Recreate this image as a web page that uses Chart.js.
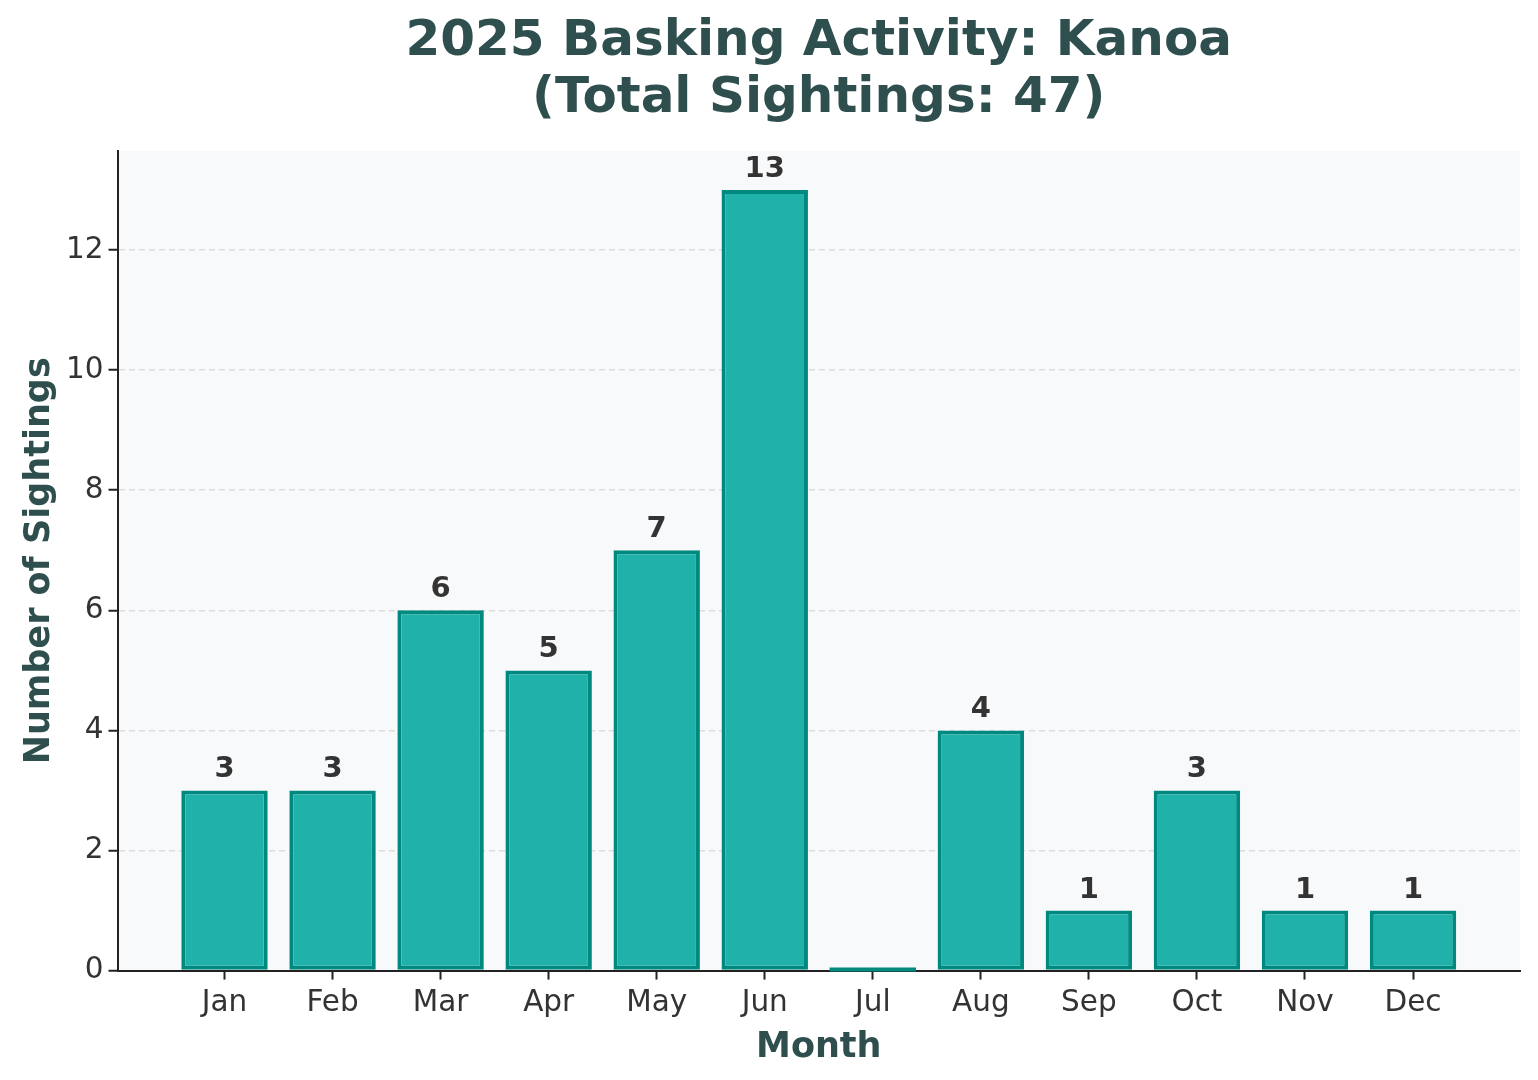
<!DOCTYPE html>
<html>
<head>
<meta charset="utf-8">
<script src="https://cdn.jsdelivr.net/npm/chart.js@4/dist/chart.umd.min.js"></script>
<style>
  html, body { margin: 0; padding: 0; background: #fff; }
  #wrap { width: 1538px; height: 1080px; }
</style>
</head>
<body>
<div id="wrap"><canvas id="baskingChart"></canvas></div>
<script>
const months = ['Jan', 'Feb', 'Mar', 'Apr', 'May', 'Jun', 'Jul', 'Aug', 'Sep', 'Oct', 'Nov', 'Dec'];
const sightings = [3, 3, 6, 5, 7, 13, 0, 4, 1, 3, 1, 1];
const yTicks = [0, 2, 4, 6, 8, 10, 12];
const totalSightings = sightings.reduce((a, b) => a + b, 0);

const plotBackground = {
    id: 'plotBackground',
    beforeDraw(chart) {
        const { ctx, chartArea: a } = chart;
        ctx.save();
        ctx.fillStyle = '#f8f9fa';
        ctx.fillRect(a.left, a.top, a.right - a.left, a.bottom - a.top);
        ctx.restore();
    }
};

// value text above each bar; empty months only get their edge line at the base
const valueLabels = {
    id: 'valueLabels',
    afterDatasetsDraw(chart) {
        const { ctx } = chart;
        const meta = chart.getDatasetMeta(0);
        ctx.save();
        ctx.font = 'bold 29px "DejaVu Sans"';
        ctx.fillStyle = '#333333';
        ctx.textAlign = 'center';
        ctx.textBaseline = 'bottom';
        meta.data.forEach((bar, i) => {
            const v = sightings[i];
            if (v > 0) {
                ctx.fillText(String(v), bar.x, bar.y - 6);
            } else {
                ctx.strokeStyle = '#00897f';
                ctx.lineWidth = 4;
                ctx.beginPath();
                ctx.moveTo(bar.x - bar.width / 2, bar.base - 1);
                ctx.lineTo(bar.x + bar.width / 2, bar.base - 1);
                ctx.stroke();
            }
        });
        ctx.restore();
    }
};

const ctx = document.getElementById('baskingChart').getContext('2d');
new Chart(ctx, {
    type: 'bar',
    data: {
        datasets: [{
            label: 'Sightings',
            data: sightings.map((v, i) => ({ x: i, y: v })),
            backgroundColor: '#20b2aa',
            borderColor: '#00897f',
            borderWidth: 4,
            borderSkipped: false,
            barPercentage: 1,
            categoryPercentage: 0.8
        }]
    },
    options: {
        responsive: true,
        maintainAspectRatio: false,
        animation: false,
        layout: { padding: { left: 19, right: 18, top: 8, bottom: 11 } },
        plugins: {
            legend: { display: false },
            tooltip: { enabled: false },
            title: {
                display: true,
                fullSize: false,
                text: ['2025 Basking Activity: Kanoa', `(Total Sightings: ${totalSightings})`],
                color: '#2f4f4f',
                font: { family: 'DejaVu Sans', size: 50, weight: 'bold', lineHeight: 1.14 },
                padding: { top: 6, bottom: 23 }
            }
        },
        scales: {
            x: {
                type: 'linear',
                offset: false,
                min: -0.99,
                max: 11.99,
                afterBuildTicks(scale) {
                    scale.ticks = months.map((m, i) => ({ value: i }));
                },
                ticks: {
                    autoSkip: false,
                    maxRotation: 0,
                    color: '#333333',
                    font: { family: 'DejaVu Sans', size: 29.5 },
                    padding: 6,
                    callback: (v) => months[v]
                },
                grid: { offset: false, drawOnChartArea: false, tickColor: '#222', tickLength: 9, tickWidth: 2 },
                border: { color: '#222', width: 2 },
                title: {
                    display: true,
                    text: 'Month',
                    color: '#2f4f4f',
                    font: { family: 'DejaVu Sans', size: 35, weight: 'bold' },
                    padding: { top: 0, bottom: 0 }
                }
            },
            y: {
                min: 0,
                max: 13.65,
                afterBuildTicks(scale) {
                    scale.ticks = yTicks.map(v => ({ value: v }));
                },
                ticks: {
                    color: '#333333',
                    font: { family: 'DejaVu Sans', size: 29.5 },
                    padding: 5
                },
                grid: {
                    color: (c) => c.tick && c.tick.value === 0 ? 'rgba(0,0,0,0)' : '#dddddd',
                    lineWidth: 1.5,
                    tickColor: '#222',
                    tickLength: 9,
                    tickWidth: 2
                },
                border: { color: '#222', width: 2, dash: [6, 4] },
                title: {
                    display: true,
                    text: 'Number of Sightings',
                    color: '#2f4f4f',
                    font: { family: 'DejaVu Sans', size: 35, weight: 'bold' },
                    padding: { top: 0, bottom: 0 }
                }
            }
        }
    },
    plugins: [plotBackground, valueLabels]
});
</script>
</body>
</html>
